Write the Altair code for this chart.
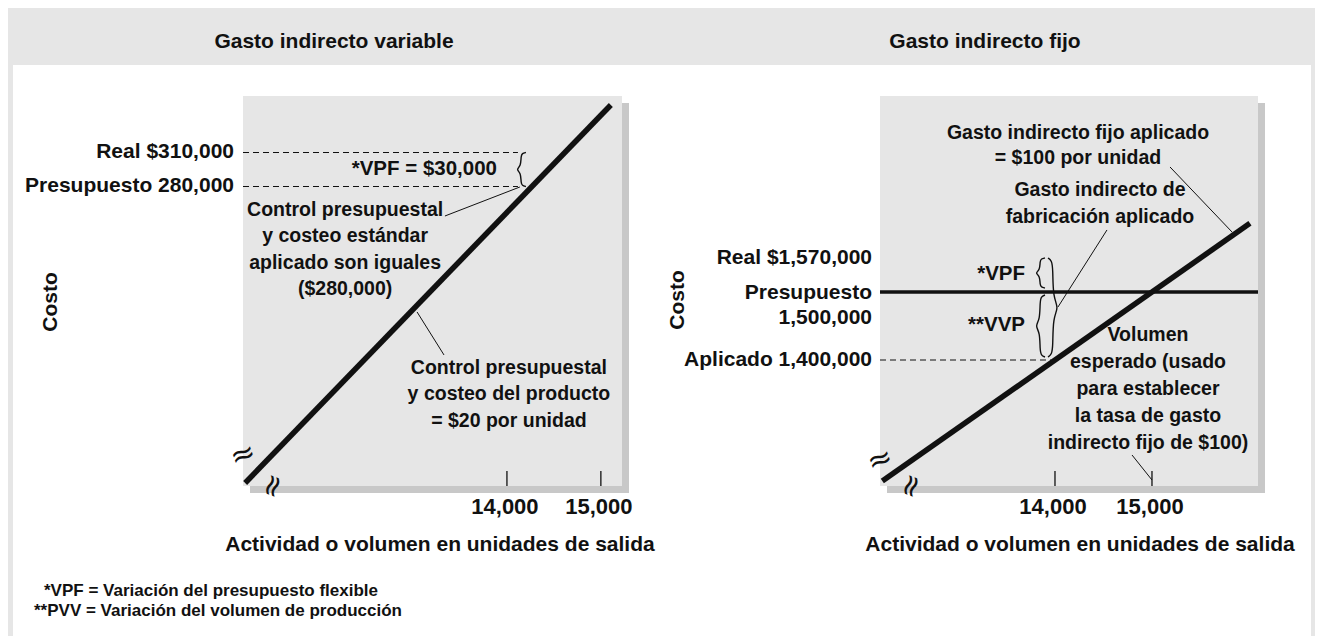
import altair as alt
import pandas as pd

FONT = "Liberation Sans"
INK = "#111111"

# ================= DATA =================
# Left panel: Gasto indirecto variable (units on x, cost on y)
var_x_domain = [11190, 15225]
var_y_domain = [15700, 359850]
var_tick_units = [14000, 15000]
var_tick_labels = ["14,000", "15,000"]
var_line_units = [11213, 15106]
var_line_cost = [18380, 351900]
var_levels = [310000, 280000]
var_level_labels = ["Real $310,000", "Presupuesto 280,000"]
var_dash_end = 14117
var_variance_label = "*VPF = $30,000"
var_notes = [
    "Control presupuestal\ny costeo estándar\naplicado son iguales\n($280,000)",
    "Control presupuestal\ny costeo del producto\n= $20 por unidad",
]

# Right panel: Gasto indirecto fijo
fix_x_domain = [12196, 16093]
fix_y_domain = [1214700, 1788200]
fix_tick_units = [14000, 15000]
fix_tick_labels = ["14,000", "15,000"]
fix_line_units = [12220, 16010]
fix_line_cost = [1222000, 1601000]
fix_budget = 1500000
fix_applied = 1400000
fix_applied_end = 13960
fix_level_labels = ["Real $1,570,000", "Presupuesto\n1,500,000", "Aplicado 1,400,000"]
fix_variance_labels = ["*VPF", "**VVP"]
fix_notes = [
    "Gasto indirecto fijo aplicado\n= $100 por unidad",
    "Gasto indirecto de\nfabricación aplicado",
    "Volumen\nesperado (usado\npara establecer\nla tasa de gasto\nindirecto fijo de $100)",
]

axis_title = "Actividad o volumen en unidades de salida"
y_title = "Costo"
panel_titles = ["Gasto indirecto variable", "Gasto indirecto fijo"]
footnotes = ["*VPF = Variación del presupuesto flexible",
             "**PVV = Variación del volumen de producción"]

# ================= LAYOUT (annotation anchors in panel data coords) =================
VAR_POS = dict(vpf=(13894, 295000), note1=(12277, 259265), note2=(14021, 119850),
               costo=(9149, 178090), axis_x=13287, brk_y=(11190, 43080), brk_x=(11511, 15700))
VAR_LEADERS = [(13340, 14138, 253970, 279560), (13043, 13330, 169260, 131320)]
VAR_BRACES = [(14096, 14149, 14202, 280000, 310000)]

FIX_POS = dict(real=1550000, pres=1498500, vpf=(13691, 1526470), vvp=(13691, 1451470),
               note1=(14237, 1733820), note2=(14464, 1650000), note3=(14959, 1436760),
               costo=(10113, 1488240), axis_x=14258, brk_y=(12196, 1253000), brk_x=(12520, 1214700))
FIX_LEADERS = [(15186, 15825, 1683800, 1588240), (14536, 14031, 1591180, 1477940),
               (14794, 15000, 1260300, 1223530)]
FIX_BRACES = [(13794, 13845, 13897, 1505900, 1550000),
              (13794, 13845, 13897, 1404400, 1495600),
              (14041, 13979, 13928, 1404400, 1550000)]


def scale(domain, rng):
    return alt.Scale(domain=domain, range=rng, nice=False, zero=False)


LX = scale(var_x_domain, [235, 614])
LY = scale(var_y_domain, [478, 88])
RX = scale(fix_x_domain, [872, 1250])
RY = scale(fix_y_domain, [478, 88])


def enc_xy(X_, Y_):
    return dict(x=alt.X("x:Q", scale=X_, axis=None), y=alt.Y("y:Q", scale=Y_, axis=None))


def texts(rows, X_, Y_, size=20, weight="bold", font=FONT, **mk):
    df = pd.DataFrame(rows, columns=["x", "y", "t"])
    return alt.Chart(df).mark_text(font=font, fontWeight=weight, fontSize=size, color=INK,
                                   lineBreak="\n", **mk).encode(text="t:N", **enc_xy(X_, Y_))


def segments(rows, X_, Y_, **mk):
    df = pd.DataFrame(rows, columns=["x", "x2", "y", "y2"])
    return alt.Chart(df).mark_rule(color=INK, **mk).encode(
        x2="x2:Q", y2="y2:Q", **enc_xy(X_, Y_))


def box_layers(xd, yd, X_, Y_):
    df = pd.DataFrame({"x": [xd[0]], "x2": [xd[1]], "y": [yd[0]], "y2": [yd[1]]})
    base = alt.Chart(df).encode(x2="x2:Q", y2="y2:Q", **enc_xy(X_, Y_))
    return [base.mark_rect(color="#c8c8c8", xOffset=7, x2Offset=7, yOffset=7, y2Offset=7),
            base.mark_rect(color="#e6e6e6")]


def line_layer(us, cs, X_, Y_):
    df = pd.DataFrame({"x": us, "y": cs})
    return alt.Chart(df).mark_line(color=INK, strokeWidth=5.5, strokeCap="butt").encode(**enc_xy(X_, Y_))


BRACE_SHAPE = [(1, 1), (0.25, 0.95), (0, 0.78), (0, 0.2), (-1, 0), (0, -0.2),
               (0, -0.78), (0.25, -0.95), (1, -1)]


def brace_layer(braces, X_, Y_):
    rows = []
    for bid, (xt, xm, xe, y0, y1) in enumerate(braces):
        ym, h = (y0 + y1) / 2, (y1 - y0) / 2
        for i, (nx, ny) in enumerate(BRACE_SHAPE):
            xv = xm + nx * (xe - xm) if nx >= 0 else xm + nx * (xm - xt)
            rows.append({"id": bid, "i": i, "x": xv, "y": ym + ny * h})
    df = pd.DataFrame(rows)
    return alt.Chart(df).mark_line(color=INK, strokeWidth=1.4, interpolate="basis").encode(
        detail="id:N", order=alt.Order("i:Q"), **enc_xy(X_, Y_))


def tick_layers(units, labels, ybase, X_, Y_, title_x):
    df = pd.DataFrame({"x": units, "y": [ybase] * len(units), "t": labels})
    base = alt.Chart(df).encode(**enc_xy(X_, Y_))
    ticks = base.mark_rule(color=INK, strokeWidth=1.3, y2Offset=-15).encode(y2="y:Q")
    labs = base.mark_text(font=FONT, fontWeight="bold", fontSize=22, color=INK, dy=21, dx=-2).encode(text="t:N")
    ttl = texts([(title_x, ybase, axis_title)], X_, Y_, size=21, dy=59)
    return [ticks, labs, ttl]


def breaks(pos_y, pos_x, X_, Y_):
    return [texts([(pos_y[0], pos_y[1], "≈")], X_, Y_, size=30, weight="normal",
                  font="DejaVu Sans", angle=340),
            texts([(pos_x[0], pos_x[1], "≈")], X_, Y_, size=30, weight="normal",
                  font="DejaVu Sans", angle=290)]


# ================= LEFT PANEL =================
left_layers = box_layers(var_x_domain, var_y_domain, LX, LY)
left_layers += [
    segments([(var_x_domain[0], var_dash_end, v, v) for v in var_levels], LX, LY,
             strokeWidth=1.1, strokeDash=[6, 4]),
    line_layer(var_line_units, var_line_cost, LX, LY),
    segments(VAR_LEADERS, LX, LY, strokeWidth=1),
    brace_layer(VAR_BRACES, LX, LY),
    texts([(var_x_domain[0], v, t) for v, t in zip(var_levels, var_level_labels)], LX, LY,
          size=21, align="right", dx=-9),
    texts([(*VAR_POS["vpf"], var_variance_label)], LX, LY, size=20.5, align="right"),
    texts([(*VAR_POS["note1"], var_notes[0]), (*VAR_POS["note2"], var_notes[1])], LX, LY,
          size=19.5, align="center", lineHeight=26.5),
    texts([(*VAR_POS["costo"], y_title)], LX, LY, size=21, angle=270),
]
left_layers += tick_layers(var_tick_units, var_tick_labels, var_y_domain[0], LX, LY, VAR_POS["axis_x"])
left_layers += breaks(VAR_POS["brk_y"], VAR_POS["brk_x"], LX, LY)

# ================= RIGHT PANEL =================
right_layers = box_layers(fix_x_domain, fix_y_domain, RX, RY)
right_layers += [
    segments([(fix_x_domain[0], fix_applied_end, fix_applied, fix_applied)], RX, RY,
             strokeWidth=1.1, strokeDash=[6, 4]),
    segments([(fix_x_domain[0], fix_x_domain[1], fix_budget, fix_budget)], RX, RY, strokeWidth=3.5),
    line_layer(fix_line_units, fix_line_cost, RX, RY),
    segments(FIX_LEADERS, RX, RY, strokeWidth=1),
    brace_layer(FIX_BRACES, RX, RY),
    texts([(fix_x_domain[0], FIX_POS["real"], fix_level_labels[0]),
           (fix_x_domain[0], FIX_POS["pres"], fix_level_labels[1]),
           (fix_x_domain[0], fix_applied, fix_level_labels[2])], RX, RY,
          size=21, align="right", dx=-8, lineHeight=25),
    texts([(*FIX_POS["vpf"], fix_variance_labels[0]), (*FIX_POS["vvp"], fix_variance_labels[1])],
          RX, RY, size=20.5, align="right"),
    texts([(*FIX_POS["note1"], fix_notes[0])], RX, RY, size=19.5, align="center", lineHeight=25),
    texts([(*FIX_POS["note2"], fix_notes[1]), (*FIX_POS["note3"], fix_notes[2])], RX, RY,
          size=19.5, align="center", lineHeight=27),
    texts([(*FIX_POS["costo"], y_title)], RX, RY, size=21, angle=270),
]
right_layers += tick_layers(fix_tick_units, fix_tick_labels, fix_y_domain[0], RX, RY, FIX_POS["axis_x"])
right_layers += breaks(FIX_POS["brk_y"], FIX_POS["brk_x"], RX, RY)

# ================= FRAME =================
one = pd.DataFrame({"k": [0]})
white = alt.Chart(one).mark_rect(color="white").encode(
    x=alt.value(5), x2=alt.value(1303), y=alt.value(57), y2=alt.value(628))
frame_text = []
for (xp, yp), t in zip([(326, 34), (977, 34)], panel_titles):
    frame_text.append(alt.Chart(one).mark_text(font=FONT, fontWeight="bold", fontSize=21, color=INK).encode(
        x=alt.value(xp), y=alt.value(yp), text=alt.value(t)))
for (xp, yp), t in zip([(36, 583), (26, 603)], footnotes):
    frame_text.append(alt.Chart(one).mark_text(font=FONT, fontWeight="bold", fontSize=17, color=INK,
                                               align="left").encode(
        x=alt.value(xp), y=alt.value(yp), text=alt.value(t)))

chart = alt.layer(
    white, *frame_text, alt.layer(*left_layers), alt.layer(*right_layers)
).resolve_scale(x="independent", y="independent").properties(
    width=1307, height=628, padding=0, background="#e6e6e6",
    autosize=alt.AutoSizeParams(type="none"),
).configure_view(strokeWidth=0)

chart.save("out.html", embed_options={"renderer": "svg", "actions": False})
